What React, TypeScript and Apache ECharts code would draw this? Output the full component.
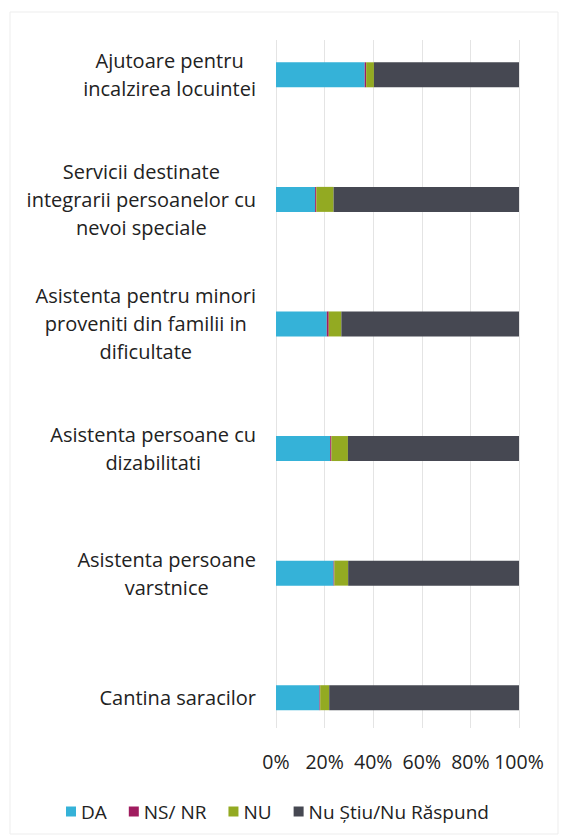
import React, { useEffect, useRef } from "react";
import * as echarts from "echarts";

const categories: string[] = [
  "Ajutoare pentru\nincalzirea locuintei",
  "Servicii destinate\nintegrarii persoanelor cu\nnevoi speciale",
  "Asistenta pentru minori\nproveniti din familii in\ndificultate",
  "Asistenta persoane cu\ndizabilitati",
  "Asistenta persoane\nvarstnice",
  "Cantina saracilor",
];
const seriesNames: string[] = ["DA", "NS/ NR", "NU", "Nu Știu/Nu Răspund"];
const daValues: number[] = [36.5, 16.1, 20.9, 22.3, 23.7, 17.9];
const nsnrValues: number[] = [0.6, 0.5, 0.8, 0.5, 0.3, 0.3];
const nuValues: number[] = [3.2, 7.1, 5.2, 6.8, 5.7, 3.7];
const nuStiuValues: number[] = [59.7, 76.3, 73.1, 70.4, 70.3, 78.1];
const xTicks: number[] = [0, 20, 40, 60, 80, 100];

const colors = ["#35b2d8", "#a01c5f", "#93aa22", "#464852"];
const FONT = "'Open Sans', 'Noto Sans', sans-serif";

export default function App() {
  const ref = useRef<HTMLDivElement>(null);
  useEffect(() => {
    if (!ref.current) return;
    const chart = echarts.init(ref.current, undefined, { renderer: "svg" });
    const values = [daValues, nsnrValues, nuValues, nuStiuValues];
    chart.setOption({
      animation: false,
      backgroundColor: "#ffffff",
      color: colors,
      textStyle: { fontFamily: FONT },
      graphic: [
        {
          type: "rect",
          shape: { x: 10, y: 12, width: 548, height: 822 },
          style: { fill: "none", stroke: "#ededed", lineWidth: 1 },
          silent: true,
        },
      ],
      grid: [
        { left: 276, right: 46, top: 12.5, height: 747.5 },
        { left: 276, right: 46, top: 40, height: 688 },
      ],
      xAxis: [
        { type: "value", gridIndex: 0, min: 0, max: 100, show: false },
        {
          type: "value",
          gridIndex: 1,
          min: 0,
          max: 100,
          interval: 20,
          axisLine: { show: false },
          axisTick: { show: false },
          splitLine: { show: true, lineStyle: { color: "#e4e4e4", width: 1 } },
          axisLabel: {
            formatter: (v: number) => (xTicks.includes(v) ? v + "%" : ""),
            fontSize: 19.5,
            color: "#222",
            margin: 23,
            fontFamily: FONT,
          },
        },
      ],
      yAxis: [
        {
          type: "category",
          gridIndex: 0,
          inverse: true,
          data: categories,
          axisLine: { show: false },
          axisTick: { show: false },
          splitLine: { show: false },
          axisLabel: {
            align: "right",
            margin: 20,
            fontSize: 20,
            lineHeight: 28,
            color: "#222",
            fontFamily: FONT,
            formatter: (v: string) =>
              v
                .split("\n")
                .map((l) => `{c|${l}}`)
                .join("\n"),
            rich: {
              c: {
                align: "center",
                fontSize: 20,
                lineHeight: 28,
                color: "#222",
                fontFamily: FONT,
              },
            },
          },
        },
        { type: "value", gridIndex: 1, show: false },
      ],
      legend: {
        data: seriesNames,
        left: 61,
        top: 797,
        icon: "rect",
        itemWidth: 10,
        itemHeight: 10,
        itemGap: 22,
        textStyle: { fontSize: 19, color: "#222", fontFamily: FONT },
      },
      series: seriesNames.map((name, i) => ({
        name,
        type: "bar",
        stack: "total",
        xAxisIndex: 0,
        yAxisIndex: 0,
        barWidth: 25,
        data: values[i],
        itemStyle: { color: colors[i] },
      })),
    });
    return () => chart.dispose();
  }, []);
  return (
    <div
      ref={ref}
      style={{ position: "fixed", left: 0, top: 0, width: 565, height: 839 }}
    />
  );
}
